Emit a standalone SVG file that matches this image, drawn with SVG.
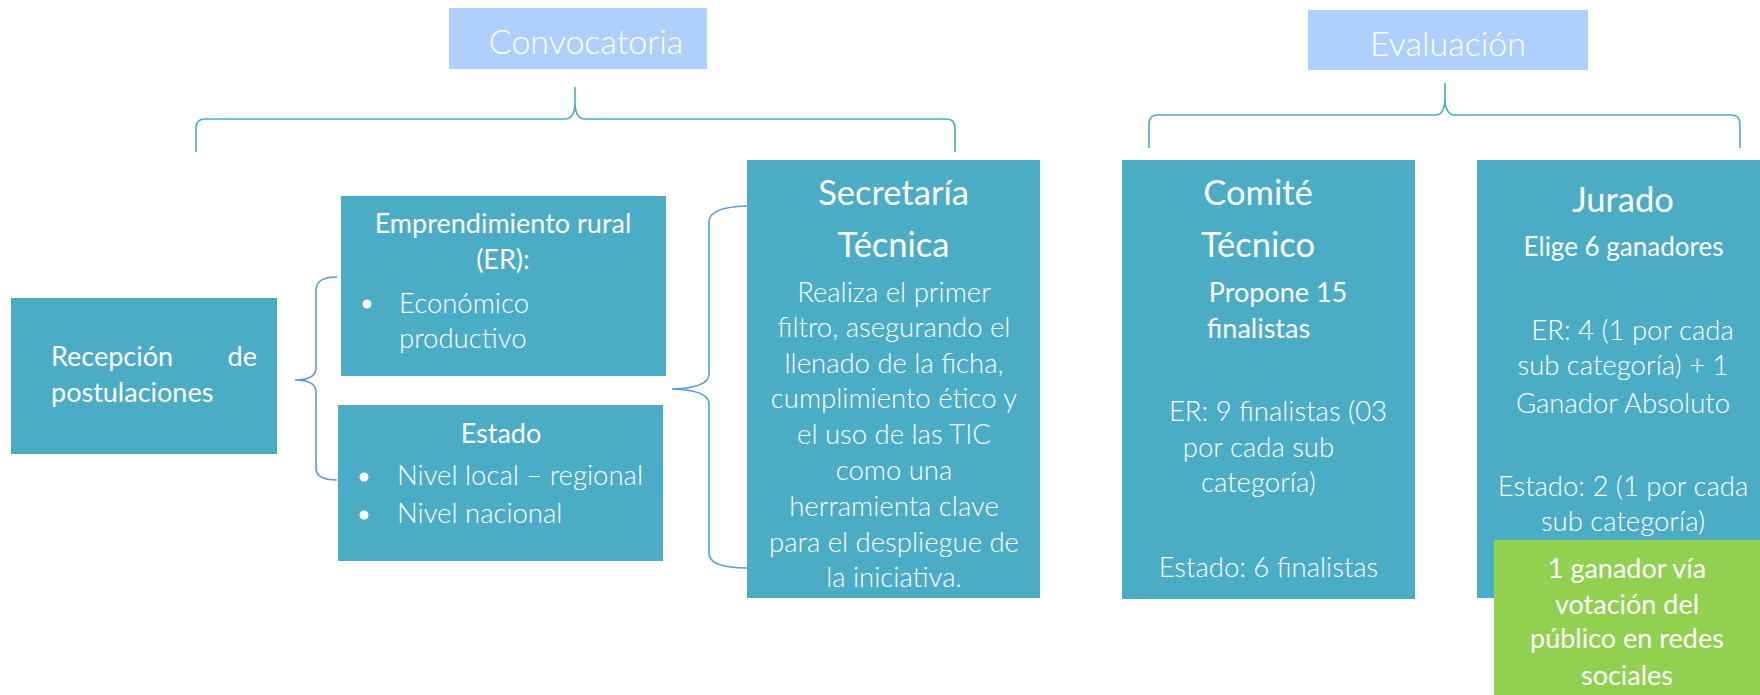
<svg xmlns="http://www.w3.org/2000/svg" width="1760" height="695" viewBox="0 0 1760 695">
<style>
.hdr{fill:#afd0fd}
.box{fill:#4bacc6}
.grn{fill:#92d050}
text{font-family:Lato,"Noto Sans",sans-serif;fill:#ffffff}
.t36{font-size:34.5px;font-weight:400}
.t36l{font-size:34px;font-weight:300}
.t28{font-size:27px;font-weight:400}
.t27{font-size:26px;font-weight:400}
.t28l{font-size:27.5px;font-weight:300}
.m{text-anchor:middle}
.e{text-anchor:end}
.brT{fill:none;stroke:#4bacc6;stroke-width:1.6}
.brS{fill:none;stroke:#5b9bd5;stroke-width:1.6}
.dot{fill:#ffffff}
</style>
<rect width="1760" height="695" fill="#ffffff"/>
<g id="connectors">
<path class="brT" d="M196,152 L196,128 Q196,119 205,119 L565,119 Q575,119 575,102 L575,87 L575,102 Q575,119 585,119 L946,119 Q955,119 955,128 L955,152"/>
<path class="brT" d="M1149,148 L1149,124 Q1149,115 1158,115 L1435,115 Q1445,115 1445,98 L1445,83 L1445,98 Q1445,115 1455,115 L1731,115 Q1740,115 1740,124 L1740,148"/>
<path class="brS" d="M337,277 Q316,277 316,290 L316,368 Q316,380 295,380 Q316,380 316,392 L316,468 Q316,480 337,480"/>
<path class="brS" d="M747,206 Q709,207 709,222 L709,374 Q709,388 672,389 Q709,390 709,404 L709,553 Q709,568 747,568"/>
</g>
<g id="convocatoria">
<rect class="hdr" x="449" y="8" width="258" height="61"/>
<text class="t36l m" x="586" y="54">Convocatoria</text>
</g>
<g id="evaluacion">
<rect class="hdr" x="1308" y="10" width="280" height="60"/>
<text class="t36l m" x="1448" y="56">Evaluación</text>
</g>
<g id="recepcion">
<rect class="box" x="11" y="298" width="266" height="156"/>
<text class="t28" x="51" y="366">Recepción</text>
<text class="t28 e" x="257" y="366">de</text>
<text class="t28" x="51" y="402">postulaciones</text>
</g>
<g id="emprendimiento">
<rect class="box" x="341" y="196" width="325" height="180"/>
<text class="t28 m" x="503" y="233">Emprendimiento rural</text>
<text class="t28 m" x="503" y="269">(ER):</text>
<circle class="dot" cx="367" cy="304" r="4.5"/>
<text class="t28l" x="399" y="313">Económico</text>
<text class="t28l" x="399" y="348">productivo</text>
</g>
<g id="estado">
<rect class="box" x="338" y="405" width="325" height="156"/>
<text class="t28 m" x="501" y="443">Estado</text>
<circle class="dot" cx="364" cy="477" r="4.5"/>
<text class="t28l" x="397" y="485">Nivel local – regional</text>
<circle class="dot" cx="364" cy="515" r="4.5"/>
<text class="t28l" x="397" y="523">Nivel nacional</text>
</g>
<g id="secretaria">
<rect class="box" x="747" y="160" width="293" height="438"/>
<text class="t36 m" x="893.5" y="205">Secretaría</text>
<text class="t36 m" x="893.5" y="257">Técnica</text>
<text class="t28l m" x="894" y="302">Realiza el primer</text>
<text class="t28l m" x="894" y="337">filtro, asegurando el</text>
<text class="t28l m" x="894" y="373">llenado de la ficha,</text>
<text class="t28l m" x="894" y="408">cumplimiento ético y</text>
<text class="t28l m" x="894" y="444">el uso de las TIC</text>
<text class="t28l m" x="894" y="480">como una</text>
<text class="t28l m" x="894" y="516">herramienta clave</text>
<text class="t28l m" x="894" y="552">para el despliegue de</text>
<text class="t28l m" x="894" y="587">la iniciativa.</text>
</g>
<g id="comite">
<rect class="box" x="1122" y="160" width="293" height="439"/>
<text class="t36 m" x="1258" y="205">Comité</text>
<text class="t36 m" x="1258" y="257">Técnico</text>
<text class="t28 m" x="1278" y="302">Propone 15</text>
<text class="t28 m" x="1258.5" y="338">finalistas</text>
<text class="t28l m" x="1278" y="421">ER: 9 finalistas (03</text>
<text class="t28l m" x="1258.5" y="457">por cada sub</text>
<text class="t28l m" x="1258.5" y="492">categoría)</text>
<text class="t28l m" x="1268.5" y="577">Estado: 6 finalistas</text>
</g>
<g id="jurado">
<rect class="box" x="1477" y="160" width="283" height="438"/>
<text class="t36 m" x="1623" y="212">Jurado</text>
<text class="t27 m" x="1623.5" y="256">Elige 6 ganadores</text>
<text class="t28l m" x="1632.5" y="340">ER: 4 (1 por cada</text>
<text class="t28l m" x="1623" y="375">sub categoría) + 1</text>
<text class="t28l m" x="1623" y="413">Ganador Absoluto</text>
<text class="t28l m" x="1623" y="496">Estado: 2 (1 por cada</text>
<text class="t28l m" x="1623" y="531">sub categoría)</text>
</g>
<g id="votacion">
<rect class="grn" x="1494" y="540" width="266" height="155"/>
<text class="t28 m" x="1627" y="578">1 ganador vía</text>
<text class="t28 m" x="1627" y="614">votación del</text>
<text class="t28 m" x="1627" y="648">público en redes</text>
<text class="t28 m" x="1627" y="685">sociales</text>
</g>
</svg>
